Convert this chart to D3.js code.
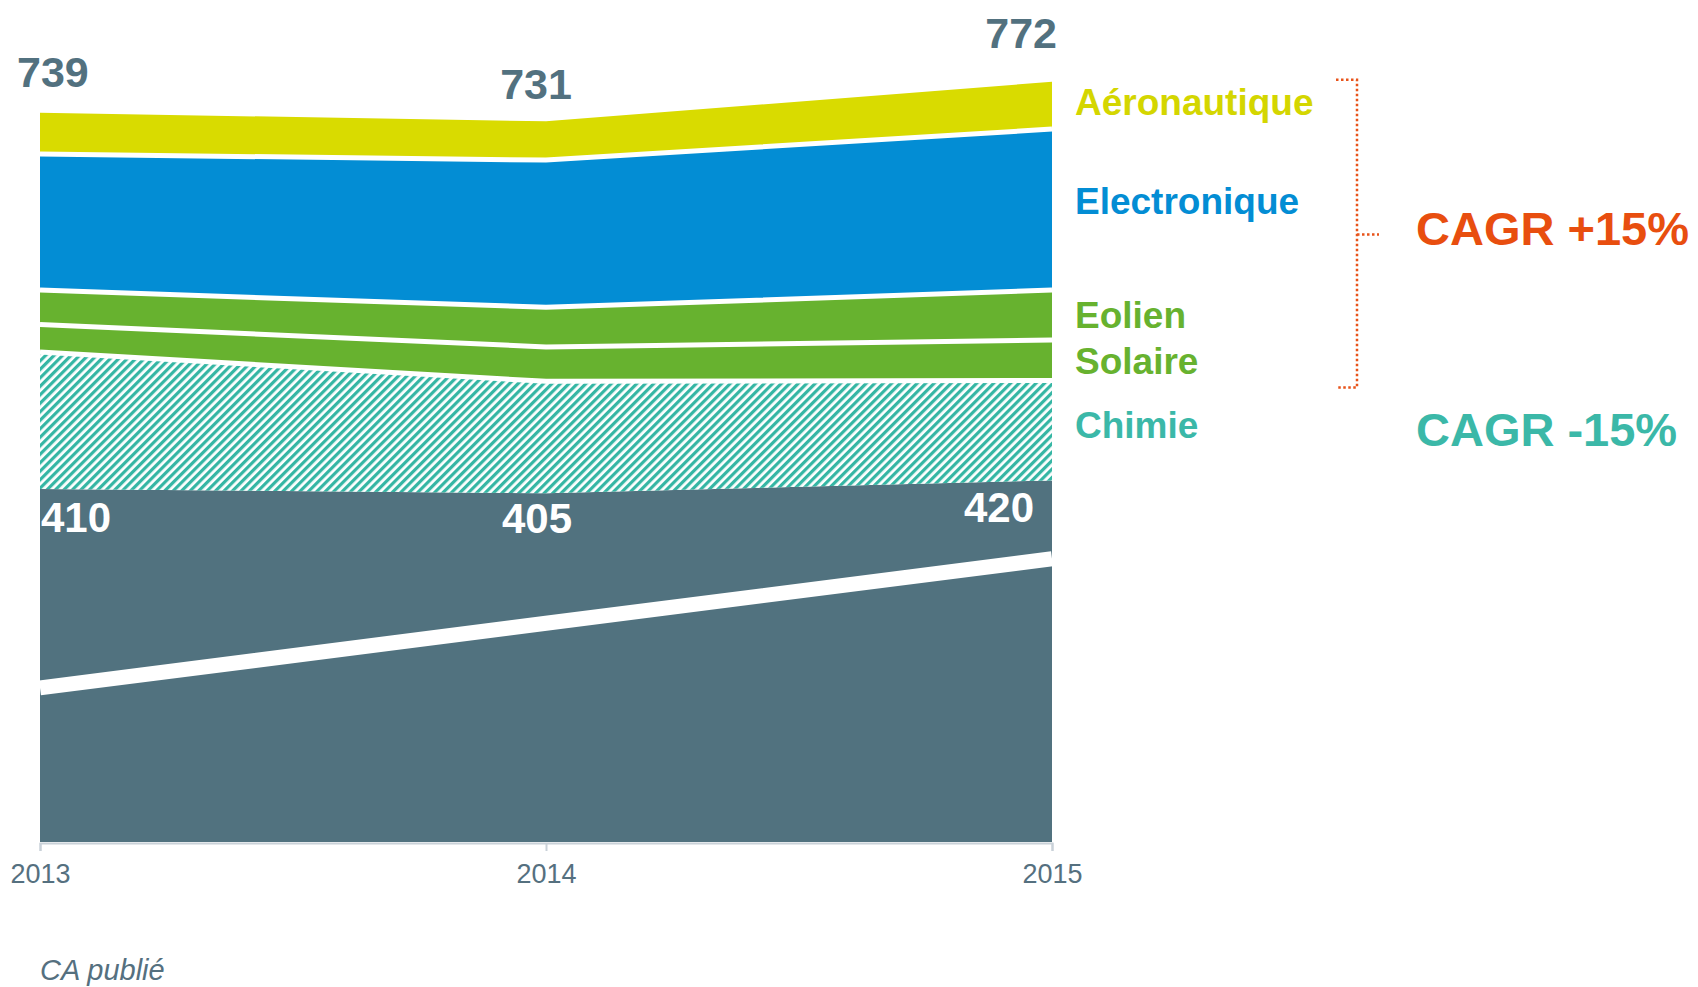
<!DOCTYPE html>
<html>
<head>
<meta charset="utf-8">
<script src="https://cdn.jsdelivr.net/npm/d3@7"></script>
<style>
  body { margin: 0; background: #fff; }
  svg { display: block; font-family: "Liberation Sans", Arial, sans-serif; }
  .domain { stroke: #c9d1d8; stroke-width: 2; }
  .tick line { stroke: #c9d1d8; stroke-width: 2; }
  .tick text { fill: #55707f; font-size: 27px; }
</style>
</head>
<body>
<svg class="chart"></svg>
<script>
var years = [2013, 2014, 2015];
var seriesNames = ["Core", "Chimie", "Solaire", "Eolien", "Electronique", "Aéronautique"];
var core = [410, 405, 420];
var chimie = [159, 130, 116];
var solaire = [32, 40, 47];
var eolien = [40, 46, 58];
var electronique = [158, 171, 187];
var aeronautique = [48, 45, 55];
var coreSplit = [179, 254, 329];
var totals = [739, 731, 772];
var cagrLabels = ["CAGR +15%", "CAGR -15%"];

var colors = {
  "Core": "#51727f",
  "Chimie": "url(#hatch)",
  "Solaire": "#67b22f",
  "Eolien": "#67b22f",
  "Electronique": "#038dd4",
  "Aéronautique": "#d9db00"
};
var labelColors = {
  "Chimie": "#3bb8a8",
  "Solaire": "#67b22f",
  "Eolien": "#67b22f",
  "Electronique": "#038dd4",
  "Aéronautique": "#d4d600"
};

var width = 1698, height = 987;
var svg = d3.select(".chart").attr("width", width).attr("height", height);

var defs = svg.append("defs");
var pat = defs.append("pattern")
  .attr("id", "hatch")
  .attr("patternUnits", "userSpaceOnUse")
  .attr("width", 6).attr("height", 6)
  .attr("patternTransform", "rotate(45)");
pat.append("rect").attr("width", 6).attr("height", 6).attr("fill", "#fff");
pat.append("rect").attr("width", 3.2).attr("height", 6).attr("fill", "#35b6a4");

var x = d3.scaleLinear().domain([2013, 2015]).range([40, 1052]);
var y = d3.scaleLinear().domain([0, 1000]).range([842, -19]);

var table = years.map(function(yr, i) {
  return {
    year: yr,
    "Core": core[i],
    "Chimie": chimie[i],
    "Solaire": solaire[i],
    "Eolien": eolien[i],
    "Electronique": electronique[i],
    "Aéronautique": aeronautique[i]
  };
});

var stacked = d3.stack().keys(seriesNames)(table);

var area = d3.area()
  .x(function(d) { return x(d.data.year); })
  .y0(function(d) { return y(d[0]); })
  .y1(function(d) { return y(d[1]); });

svg.selectAll("path.band")
  .data(stacked)
  .enter().append("path")
  .attr("class", "band")
  .attr("d", area)
  .attr("fill", function(d) { return colors[d.key]; });

// white separators between the upper bands
var topLine = d3.line()
  .x(function(d) { return x(d.data.year); })
  .y(function(d) { return y(d[1]); });

svg.selectAll("path.sep")
  .data(stacked.slice(1, 5))
  .enter().append("path")
  .attr("class", "sep")
  .attr("d", topLine)
  .attr("fill", "none")
  .attr("stroke", "#fff")
  .attr("stroke-width", 5);

// white split inside the core band
svg.append("path")
  .datum(years.map(function(yr, i) { return [yr, coreSplit[i]]; }))
  .attr("d", d3.line().x(function(d) { return x(d[0]); }).y(function(d) { return y(d[1]); }))
  .attr("fill", "none")
  .attr("stroke", "#fff")
  .attr("stroke-width", 15);

// x axis
svg.append("g")
  .attr("transform", "translate(0," + (y(0) + 1) + ")")
  .call(d3.axisBottom(x).tickValues(years).tickFormat(d3.format("d")).tickSize(8).tickPadding(13));

// totals above the stack
var topStack = stacked[stacked.length - 1];
var totalAnchor = ["start", "middle", "end"];
var totalShift = [-23, -10, 5];
var totalLift = [26, 22, 34];
svg.selectAll("text.total")
  .data(totals)
  .enter().append("text")
  .attr("class", "total")
  .attr("x", function(d, i) { return x(years[i]) + totalShift[i]; })
  .attr("y", function(d, i) { return y(topStack[i][1]) - totalLift[i]; })
  .attr("text-anchor", function(d, i) { return totalAnchor[i]; })
  .attr("fill", "#52717f")
  .attr("font-size", 43)
  .attr("font-weight", "bold")
  .text(function(d) { return d; });

// core values
var coreAnchor = ["start", "middle", "end"];
var coreShift = [1, -9, -18];
var coreDrop = [43, 40, 42];
svg.selectAll("text.core")
  .data(core)
  .enter().append("text")
  .attr("class", "core")
  .attr("x", function(d, i) { return x(years[i]) + coreShift[i]; })
  .attr("y", function(d, i) { return y(d) + coreDrop[i]; })
  .attr("text-anchor", function(d, i) { return coreAnchor[i]; })
  .attr("fill", "#fff")
  .attr("font-size", 42)
  .attr("font-weight", "bold")
  .text(function(d) { return d; });

// series labels on the right
var last = years.length - 1;
var labelDrop = [8, 14, 13, 4, 10];
svg.selectAll("text.serie")
  .data(stacked.slice(1))
  .enter().append("text")
  .attr("class", "serie")
  .attr("x", x(2015) + 23)
  .attr("y", function(d, i) { return (y(d[last][0]) + y(d[last][1])) / 2 + labelDrop[i]; })
  .attr("fill", function(d) { return labelColors[d.key]; })
  .attr("font-size", 37)
  .attr("font-weight", "bold")
  .text(function(d) { return d.key; });

// bracket around growth segments
var bTop = y(topStack[last][1]) - 2;
var bBot = y(stacked[1][last][1]) + 7;
var bMid = (bTop + bBot) / 2 + 1;
var bx = 1357;
svg.append("path")
  .attr("d", "M" + (bx - 21) + "," + bTop + "H" + bx + "V" + bBot + "H" + (bx - 21) +
             "M" + bx + "," + bMid + "H" + (bx + 22))
  .attr("fill", "none")
  .attr("stroke", "#e8531a")
  .attr("stroke-width", 2.5)
  .attr("stroke-dasharray", "2.5,2.5");

svg.append("text")
  .attr("x", 1416).attr("y", bMid + 10)
  .attr("fill", "#e84e0f")
  .attr("font-size", 47).attr("font-weight", "bold")
  .text(cagrLabels[0]);

svg.append("text")
  .attr("x", 1416).attr("y", (y(stacked[1][last][0]) + y(stacked[1][last][1])) / 2 + 16)
  .attr("fill", "#3bb8a8")
  .attr("font-size", 47).attr("font-weight", "bold")
  .text(cagrLabels[1]);

svg.append("text")
  .attr("x", 40).attr("y", 980)
  .attr("fill", "#55707f")
  .attr("font-size", 29)
  .attr("font-style", "italic")
  .text("CA publié");
</script>
</body>
</html>
